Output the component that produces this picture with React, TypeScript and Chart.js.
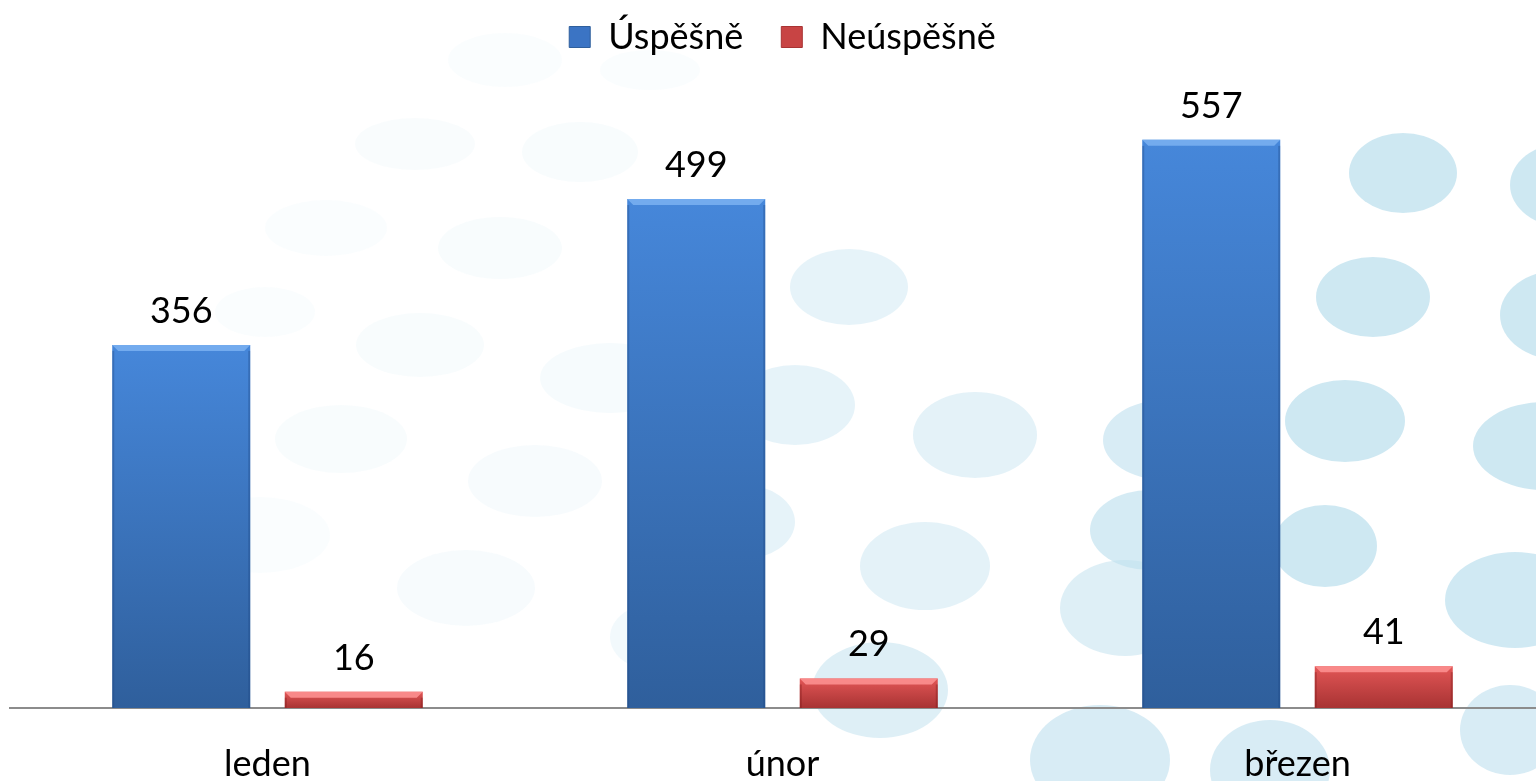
import React, { useEffect, useRef } from "react";
import { Chart, registerables } from "chart.js";

Chart.register(...registerables);

const categories = ["leden", "únor", "březen"];
const successful = [356, 499, 557];
const unsuccessful = [16, 29, 41];
const seriesNames = ["Úspěšně", "Neúspěšně"];

// decorative background dots: [cx, cy, rx, ry, alpha]
const decoDots: number[][] = [
  [505, 60, 57, 27, 0.08], [650, 70, 50, 20, 0.08], [415, 144, 60, 26, 0.09], [580, 152, 58, 30, 0.1],
  [326, 228, 61, 28, 0.08], [500, 248, 62, 31, 0.1], [265, 312, 50, 25, 0.07], [420, 345, 64, 32, 0.1],
  [610, 378, 70, 35, 0.14], [341, 439, 66, 34, 0.1], [535, 481, 67, 36, 0.13], [260, 535, 70, 38, 0.07],
  [466, 588, 69, 38, 0.13], [660, 637, 50, 35, 0.2],
  [849, 287, 59, 38, 0.38], [795, 405, 60, 40, 0.38], [975, 435, 62, 43, 0.42], [740, 522, 55, 38, 0.38],
  [925, 566, 65, 44, 0.42], [1125, 608, 65, 48, 0.5], [880, 690, 68, 48, 0.5],
  [1165, 440, 62, 40, 0.6], [1150, 530, 60, 40, 0.65], [1100, 760, 70, 55, 0.6], [1270, 770, 60, 50, 0.6],
  [1403, 173, 54, 40, 0.75], [1565, 185, 55, 42, 0.75], [1373, 297, 57, 40, 0.75], [1560, 315, 60, 45, 0.75],
  [1345, 421, 60, 41, 0.75], [1545, 446, 72, 44, 0.75], [1325, 546, 52, 41, 0.75], [1515, 600, 70, 48, 0.72],
  [1510, 730, 50, 45, 0.6],
];

const FONT = "Lato, 'Open Sans', sans-serif";

const bgPlugin = {
  id: "bgDots",
  beforeDraw(chart: any) {
    const ctx = chart.ctx;
    ctx.save();
    ctx.fillStyle = "#ffffff";
    ctx.fillRect(0, 0, chart.width, chart.height);
    for (const [cx, cy, rx, ry, a] of decoDots) {
      ctx.beginPath();
      ctx.ellipse(cx, cy, rx, ry, 0, 0, Math.PI * 2);
      ctx.fillStyle = `rgba(190,224,238,${a})`;
      ctx.fill();
    }
    ctx.restore();
  },
};

const bevelColors = [
  { top: "rgba(120,175,240,0.9)", side: "rgba(30,70,130,0.35)" },
  { top: "rgba(250,140,140,0.95)", side: "rgba(120,20,20,0.35)" },
];

const barDecorPlugin = {
  id: "barDecor",
  afterDatasetsDraw(chart: any) {
    const ctx = chart.ctx;
    ctx.save();
    chart.data.datasets.forEach((ds: any, di: number) => {
      const meta = chart.getDatasetMeta(di);
      meta.data.forEach((el: any, i: number) => {
        const { x, y, width, base } = el.getProps(["x", "y", "width", "base"], true);
        const l = x - width / 2;
        const r = x + width / 2;
        const b = 6;
        ctx.beginPath();
        ctx.moveTo(l, y);
        ctx.lineTo(r, y);
        ctx.lineTo(r - b, y + b);
        ctx.lineTo(l + b, y + b);
        ctx.closePath();
        ctx.fillStyle = bevelColors[di].top;
        ctx.fill();
        ctx.fillStyle = bevelColors[di].side;
        ctx.fillRect(l, y + b, 2, base - y - b);
        ctx.fillRect(r - 2, y + b, 2, base - y - b);
        ctx.fillStyle = "#000000";
        ctx.font = `36px ${FONT}`;
        ctx.textAlign = "center";
        ctx.textBaseline = "alphabetic";
        ctx.fillText(String(ds.data[i]), x, y - 22);
      });
    });
    ctx.restore();
  },
};

const legendMargin = {
  id: "legendMargin",
  beforeInit(chart: any) {
    const orig = chart.legend.fit;
    chart.legend.fit = function () {
      orig.bind(chart.legend)();
      this.height += 31;
    };
  },
};

function gradientFor(di: number) {
  return (c: any) => {
    const chart = c.chart;
    const yScale = chart.scales?.y;
    const area = chart.chartArea;
    const fallback = di === 0 ? "#3b74c4" : "#c84444";
    if (!yScale || !area || c.raw == null) return fallback;
    const top = yScale.getPixelForValue(c.raw);
    const bottom = yScale.getPixelForValue(0);
    if (!isFinite(top) || !isFinite(bottom) || bottom - top < 1) return fallback;
    const g = chart.ctx.createLinearGradient(0, top, 0, bottom);
    if (di === 0) {
      g.addColorStop(0, "#4687da");
      g.addColorStop(1, "#2f5f9c");
    } else {
      g.addColorStop(0, "#e25656");
      g.addColorStop(1, "#a83333");
    }
    return g;
  };
}

export default function App() {
  const ref = useRef<HTMLCanvasElement | null>(null);
  useEffect(() => {
    document.body.style.margin = "0";
    document.body.style.overflow = "hidden";
    if (!ref.current) return;
    const chart = new Chart(ref.current, {
      type: "bar",
      data: {
        labels: categories,
        datasets: [
          {
            label: seriesNames[0],
            data: successful,
            backgroundColor: gradientFor(0),
            borderWidth: 0,
            categoryPercentage: 0.67,
            barPercentage: 0.8,
          },
          {
            label: seriesNames[1],
            data: unsuccessful,
            backgroundColor: gradientFor(1),
            borderWidth: 0,
            categoryPercentage: 0.67,
            barPercentage: 0.8,
          },
        ],
      },
      options: {
        responsive: false,
        animation: false,
        layout: { padding: { left: 10, right: 5, top: -19, bottom: 0 } },
        plugins: {
          legend: {
            display: true,
            position: "top",
            labels: {
              font: { family: FONT, size: 36 },
              color: "#000000",
              boxWidth: 21,
              boxHeight: 21,
              padding: 38,
              generateLabels: (ch: any) =>
                ch.data.datasets.map((d: any, i: number) => ({
                  text: d.label,
                  fillStyle: i === 0 ? "#3b74c4" : "#c84444",
                  strokeStyle: i === 0 ? "#2f5f9c" : "#a83333",
                  lineWidth: 1,
                  hidden: false,
                  datasetIndex: i,
                  fontColor: "#000000",
                })),
            },
          },
          tooltip: { enabled: false },
        },
        scales: {
          x: {
            grid: { display: false, drawTicks: false },
            border: { display: true, color: "#8c8c8c", width: 2 },
            ticks: { font: { family: FONT, size: 36 }, color: "#000000", padding: 35 },
            afterFit: (scale: any) => {
              scale.height = 73;
            },
          },
          y: {
            display: false,
            min: 0,
            max: 600,
          },
        },
      },
      plugins: [bgPlugin, barDecorPlugin, legendMargin],
    });
    return () => chart.destroy();
  }, []);
  return (
    <div style={{ position: "fixed", left: 0, top: 0, width: 1536, height: 781, overflow: "hidden", background: "#fff" }}>
      <canvas ref={ref} width={1560} height={781} style={{ width: 1560, height: 781, display: "block" }} />
    </div>
  );
}
